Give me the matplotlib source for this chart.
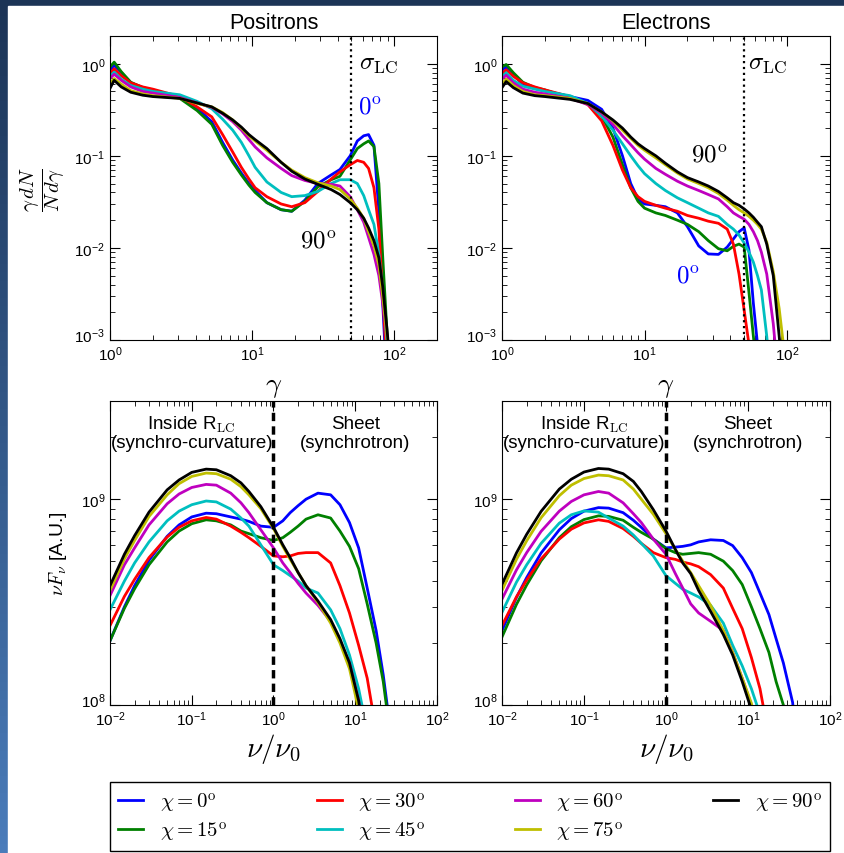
import numpy as np
import matplotlib
matplotlib.use('Agg')
import matplotlib.pyplot as plt
from matplotlib.patches import Rectangle
from matplotlib.colors import LinearSegmentedColormap
from matplotlib.transforms import ScaledTranslation

plt.rcParams['font.family'] = 'Liberation Sans'
plt.rcParams['mathtext.fontset'] = 'cm'

angles = [0, 15, 30, 45, 60, 75, 90]
colors = ['b', 'g', 'r', 'c', 'm', 'y', 'k']

# particle spectra, positrons (gamma grid)
gam_p = [1.0, 1.07, 1.2, 1.4, 1.7, 2.0, 3.1, 4.1, 5.2, 6.2, 7.3, 8.4, 9.5, 10.5, 12.7,
         16, 19, 23.5, 29, 36, 41.5, 49, 55, 61, 66, 72, 78, 83, 89, 95]
pos_0 = [0.86, 0.96, 0.8, 0.62, 0.55, 0.52, 0.43, 0.33, 0.235, 0.14, 0.09, 0.065, 0.05, 0.042, 0.031,
         0.026, 0.025, 0.033, 0.05, 0.062, 0.071, 0.1, 0.145, 0.165, 0.17, 0.13, 0.025, 0.0025, 0.0003, 0.0001]
pos_15 = [0.92, 1.04, 0.82, 0.63, 0.55, 0.51, 0.42, 0.31, 0.22, 0.13, 0.085, 0.062, 0.048, 0.04, 0.031,
          0.026, 0.025, 0.032, 0.046, 0.055, 0.06, 0.09, 0.12, 0.135, 0.145, 0.126, 0.05, 0.008, 0.0012, 0.0002]
pos_30 = [0.78, 0.88, 0.74, 0.62, 0.56, 0.53, 0.44, 0.34, 0.265, 0.17, 0.11, 0.075, 0.056, 0.045, 0.036,
          0.03, 0.028, 0.031, 0.041, 0.056, 0.067, 0.08, 0.089, 0.085, 0.073, 0.045, 0.016, 0.003, 0.0005, 0.0001]
pos_45 = [0.73, 0.81, 0.68, 0.58, 0.53, 0.5, 0.46, 0.39, 0.325, 0.25, 0.19, 0.14, 0.1, 0.075, 0.052,
          0.04, 0.036, 0.037, 0.041, 0.05, 0.055, 0.055, 0.05, 0.037, 0.026, 0.018, 0.0085, 0.0035, 0.0009, 0.0002]
pos_60 = [0.69, 0.77, 0.66, 0.56, 0.5, 0.48, 0.43, 0.375, 0.335, 0.285, 0.235, 0.19, 0.15, 0.125, 0.095,
          0.073, 0.061, 0.054, 0.05, 0.049, 0.047, 0.036, 0.026, 0.019, 0.013, 0.0085, 0.005, 0.0025, 0.0011, 0.0003]
pos_75 = [0.61, 0.69, 0.6, 0.51, 0.47, 0.45, 0.42, 0.37, 0.34, 0.295, 0.245, 0.2, 0.165, 0.145, 0.115,
          0.085, 0.07, 0.058, 0.051, 0.047, 0.043, 0.034, 0.027, 0.021, 0.015, 0.0105, 0.0065, 0.003, 0.0011, 0.0003]
pos_90 = [0.54, 0.66, 0.56, 0.49, 0.455, 0.44, 0.42, 0.375, 0.34, 0.29, 0.245, 0.205, 0.17, 0.15, 0.12,
          0.085, 0.068, 0.056, 0.049, 0.043, 0.038, 0.031, 0.026, 0.021, 0.0165, 0.012, 0.0078, 0.0038, 0.0013, 0.0004]

# particle spectra, electrons
gam_e = [1.0, 1.07, 1.2, 1.4, 1.7, 2, 3, 4, 5, 6, 7, 8, 9, 10, 12, 14, 17, 20, 24, 28, 33,
         38, 42, 46, 50, 54, 58, 62, 66, 72, 80, 88, 95]
ele_0 = [0.85, 0.93, 0.76, 0.6, 0.54, 0.51, 0.44, 0.4, 0.32, 0.2, 0.1, 0.05, 0.034, 0.03, 0.029, 0.028, 0.024,
         0.017, 0.0105, 0.0086, 0.0085, 0.0102, 0.0125, 0.015, 0.0165, 0.0095, 0.0025, 0.0009, 0.0003,
         0.0001, 0.0001, 0.0001, 0.0001]
ele_15 = [0.92, 0.98, 0.8, 0.63, 0.55, 0.52, 0.42, 0.37, 0.27, 0.16, 0.08, 0.045, 0.032, 0.027, 0.024, 0.0225,
          0.02, 0.018, 0.015, 0.012, 0.0098, 0.0093, 0.0104, 0.011, 0.0102, 0.0033, 0.0011, 0.0004, 0.0001,
          0.0001, 0.0001, 0.0001, 0.0001]
ele_30 = [0.78, 0.86, 0.73, 0.62, 0.56, 0.52, 0.44, 0.36, 0.24, 0.13, 0.07, 0.045, 0.036, 0.032, 0.029, 0.027,
          0.025, 0.0225, 0.021, 0.0195, 0.0185, 0.016, 0.011, 0.0052, 0.0021, 0.0009, 0.0003, 0.0001, 0.0001,
          0.0001, 0.0001, 0.0001, 0.0001]
ele_45 = [0.72, 0.8, 0.66, 0.57, 0.53, 0.5, 0.45, 0.37, 0.27, 0.19, 0.135, 0.1, 0.078, 0.064, 0.05, 0.042,
          0.035, 0.031, 0.027, 0.024, 0.022, 0.018, 0.016, 0.0138, 0.0113, 0.009, 0.007, 0.005, 0.0035,
          0.0011, 0.0002, 0.0001, 0.0001]
ele_60 = [0.68, 0.75, 0.62, 0.53, 0.49, 0.47, 0.42, 0.36, 0.29, 0.22, 0.165, 0.132, 0.108, 0.092, 0.073, 0.063,
          0.053, 0.047, 0.042, 0.038, 0.034, 0.028, 0.024, 0.022, 0.0205, 0.018, 0.015, 0.012, 0.009,
          0.0052, 0.0015, 0.0003, 0.0001]
ele_75 = [0.6, 0.68, 0.58, 0.5, 0.46, 0.45, 0.42, 0.37, 0.3, 0.24, 0.19, 0.155, 0.13, 0.115, 0.095, 0.08,
          0.065, 0.056, 0.05, 0.045, 0.039, 0.033, 0.029, 0.026, 0.024, 0.022, 0.02, 0.018, 0.016,
          0.0115, 0.0055, 0.0022, 0.0008]
ele_90 = [0.55, 0.64, 0.55, 0.48, 0.45, 0.44, 0.41, 0.37, 0.3, 0.245, 0.2, 0.16, 0.135, 0.12, 0.1, 0.083,
          0.067, 0.058, 0.052, 0.047, 0.041, 0.035, 0.031, 0.029, 0.0265, 0.024, 0.0215, 0.019, 0.017,
          0.011, 0.005, 0.0011, 0.0003]

# photon SEDs (nu/nu0 grid, units of 1e8)
nu = [0.01, 0.015, 0.02, 0.03, 0.05, 0.07, 0.1, 0.15, 0.2, 0.3, 0.4, 0.5, 0.7, 1.0, 1.3, 1.6, 2.0,
      2.5, 3.5, 5.0, 6.5, 8.5, 11, 14, 18, 22, 27, 35, 45]
sed_p0 = [2.05, 3.0, 3.8, 5.05, 6.6, 7.5, 8.2, 8.55, 8.5, 8.2, 8.0, 7.8, 7.4, 7.3, 7.85, 8.6, 9.3,
          10.0, 10.7, 10.5, 9.4, 7.7, 5.8, 3.7, 2.3, 1.4, 0.75, 0.25, 0.05]
sed_p15 = [2.05, 2.95, 3.67, 4.8, 6.2, 7.0, 7.6, 7.94, 7.85, 7.5, 7.0, 6.8, 6.5, 6.3, 6.5, 6.9, 7.4,
           8.0, 8.4, 8.1, 7.0, 5.9, 4.6, 3.1, 2.0, 1.3, 0.7, 0.2, 0.05]
sed_p30 = [2.43, 3.37, 4.08, 5.2, 6.55, 7.3, 7.85, 8.15, 8.0, 7.4, 6.9, 6.5, 5.9, 5.3, 5.25, 5.3, 5.45,
           5.5, 5.5, 4.9, 3.8, 2.8, 1.95, 1.35, 0.75, 0.4, 0.2, 0.1, 0.05]
sed_p45 = [2.9, 4.0, 4.9, 6.2, 7.85, 8.75, 9.4, 9.8, 9.7, 8.95, 8.1, 7.4, 6.0, 4.8, 4.5, 4.25, 4.0,
           3.7, 3.5, 2.9, 2.35, 1.75, 1.2, 0.75, 0.4, 0.2, 0.1, 0.05, 0.02]
sed_p60 = [3.4, 4.8, 5.8, 7.5, 9.5, 10.6, 11.4, 11.8, 11.7, 10.7, 9.6, 8.6, 7.1, 5.8, 4.9, 4.4, 3.9,
           3.5, 3.05, 2.55, 2.05, 1.6, 1.05, 0.55, 0.3, 0.2, 0.1, 0.05, 0.02]
sed_p75 = [3.6, 5.13, 6.3, 8.24, 10.5, 11.9, 12.9, 13.4, 13.3, 12.5, 11.5, 10.5, 9.0, 7.2, 5.9, 5.1, 4.4,
           3.8, 3.15, 2.5, 2.0, 1.5, 0.95, 0.5, 0.3, 0.2, 0.1, 0.05, 0.02]
sed_p90 = [3.8, 5.4, 6.65, 8.65, 11.1, 12.4, 13.5, 14.0, 13.9, 13.0, 12.0, 10.9, 9.2, 7.3, 6.0, 5.2, 4.4,
           3.8, 3.2, 2.6, 2.1, 1.6, 1.05, 0.55, 0.3, 0.2, 0.1, 0.05, 0.02]

sed_e0 = [2.3, 3.33, 4.16, 5.48, 7.1, 8.05, 8.75, 9.1, 9.05, 8.6, 7.9, 7.3, 6.4, 5.8, 5.85, 5.9, 6.0,
          6.2, 6.35, 6.3, 5.95, 5.2, 4.4, 3.5, 2.75, 2.1, 1.6, 1.03, 0.4]
sed_e15 = [2.14, 3.08, 3.83, 5.02, 6.5, 7.35, 7.96, 8.3, 8.25, 7.9, 7.3, 6.9, 6.4, 5.75, 5.5, 5.4, 5.45,
           5.5, 5.4, 5.0, 4.5, 3.85, 3.0, 2.35, 1.8, 1.3, 1.0, 0.5, 0.15]
sed_e30 = [2.43, 3.35, 4.05, 5.13, 6.4, 7.15, 7.67, 7.94, 7.8, 7.2, 6.6, 6.1, 5.5, 5.2, 5.1, 4.95, 4.85,
           4.7, 4.3, 3.7, 2.95, 2.35, 1.7, 1.2, 0.7, 0.35, 0.15, 0.06, 0.02]
sed_e45 = [2.82, 3.95, 4.8, 6.1, 7.65, 8.4, 8.77, 8.65, 8.1, 7.4, 6.7, 6.1, 5.3, 4.25, 3.9, 3.65, 3.5,
           3.35, 3.05, 2.5, 1.95, 1.55, 1.2, 0.9, 0.4, 0.2, 0.1, 0.05, 0.02]
sed_e60 = [3.27, 4.53, 5.5, 6.98, 8.75, 9.75, 10.5, 10.9, 10.7, 9.6, 8.5, 7.7, 6.4, 5.4, 4.35, 3.7, 3.1,
           2.8, 2.55, 2.3, 1.8, 1.35, 1.0, 0.6, 0.3, 0.15, 0.08, 0.04, 0.02]
sed_e75 = [3.6, 5.1, 6.28, 8.13, 10.4, 11.7, 12.6, 13.1, 13.0, 12.4, 11.2, 10.0, 8.45, 6.8, 5.7, 5.0, 4.4,
           3.8, 3.05, 2.3, 1.8, 1.35, 1.02, 0.6, 0.3, 0.15, 0.08, 0.04, 0.02]
sed_e90 = [3.86, 5.48, 6.75, 8.73, 11.2, 12.5, 13.55, 14.1, 14.0, 13.3, 12.2, 10.9, 8.9, 7.0, 5.7, 4.9,
           4.35, 3.6, 2.85, 2.2, 1.75, 1.3, 0.95, 0.5, 0.25, 0.15, 0.08, 0.04, 0.02]

spec_pos = [pos_0, pos_15, pos_30, pos_45, pos_60, pos_75, pos_90]
spec_ele = [ele_0, ele_15, ele_30, ele_45, ele_60, ele_75, ele_90]
sed_pos = [sed_p0, sed_p15, sed_p30, sed_p45, sed_p60, sed_p75, sed_p90]
sed_ele = [sed_e0, sed_e15, sed_e30, sed_e45, sed_e60, sed_e75, sed_e90]

W, H = 845, 854
fig = plt.figure(figsize=(W / 100, H / 100), dpi=100)

# slide background: navy frame with a blue gradient on the left
bg = fig.add_axes([0, 0, 1, 1], zorder=-10)
cmap = LinearSegmentedColormap.from_list('slide', ['#4a7cba', '#1c3456'])
bg.imshow(np.linspace(0, 1, 100)[:, None], aspect='auto', cmap=cmap, origin='lower',
          extent=[0, 1, 0, 1])
bg.add_patch(Rectangle((8 / W, 0), 1, 1 - 7 / H, color='white', zorder=2))
bg.set_xlim(0, 1)
bg.set_ylim(0, 1)
bg.axis('off')


def px_axes(x0, y0, x1, y1):
    return fig.add_axes([x0 / W, 1 - y1 / H, (x1 - x0) / W, (y1 - y0) / H])


ax_tl = px_axes(110, 37, 437, 341)
ax_tr = px_axes(502, 37, 830, 341)
ax_bl = px_axes(110, 402, 437, 706)
ax_br = px_axes(502, 402, 830, 706)


def style(ax):
    ax.set_xscale('log')
    ax.set_yscale('log')
    ax.tick_params(which='both', direction='in', top=True, right=True, labelsize=11)
    ax.tick_params(which='major', length=7)
    ax.tick_params(which='minor', length=3.5)


for ax, x, spec in [(ax_tl, gam_p, spec_pos), (ax_tr, gam_e, spec_ele)]:
    for y, c, a in zip(spec, colors, angles):
        ax.plot(x, y, color=c, lw=2, label=r'$\chi=%d^{\rm o}$' % a)
    style(ax)
    ax.set_xlim(1, 200)
    ax.set_ylim(1e-3, 2)
    ax.axvline(50, color='k', ls=':', lw=1.6)
    ax.set_xlabel(r'$\gamma$', fontsize=20)
    ax.xaxis.set_label_coords(0.5, -0.11)

for ax, sed in [(ax_bl, sed_pos), (ax_br, sed_ele)]:
    for y, c in zip(sed, colors):
        ax.plot(nu, np.array(y) * 1e8, color=c, lw=2)
    style(ax)
    ax.set_xlim(1e-2, 1e2)
    ax.set_ylim(1e8, 3e9)
    ax.axvline(1, color='k', ls='--', lw=2.5, dashes=(2.4, 1.5))
    ax.set_xlabel(r'$\nu/\nu_0$', fontsize=21)
    ax.xaxis.set_label_coords(0.5, -0.085)
    tr = ax.get_xaxis_transform()
    ax.text(0.1, 0.925, r'Inside R$_{\rm LC}$', transform=tr, ha='center', va='center', fontsize=13.5)
    ax.text(0.1, 0.865, '(synchro-curvature)', transform=tr, ha='center', va='center', fontsize=13.5)
    ax.text(10, 0.925, 'Sheet', transform=tr, ha='center', va='center', fontsize=13.5)
    ax.text(10, 0.865, '(synchrotron)', transform=tr, ha='center', va='center', fontsize=13.5)

ax_tl.set_title('Positrons', fontsize=15.5, pad=6)
ax_tr.set_title('Electrons', fontsize=15.5, pad=6)

ax_tl.set_ylabel(r'$\dfrac{\gamma\,dN}{N\,d\gamma}$', fontsize=15)
ax_tl.yaxis.set_label_coords(-0.13, 0.5)
ax_bl.set_ylabel(r'$\nu F_\nu$ [A.U.]', fontsize=14)
ax_bl.yaxis.set_label_coords(-0.125, 0.5)

for ax, xs in [(ax_tl, 77), (ax_tr, 73)]:
    ax.text(xs, 1.05, r'$\sigma_{\rm LC}$', fontsize=18, ha='center', va='center')
ax_tl.text(68, 0.35, r'$0^{\rm o}$', color='b', fontsize=18, ha='center', va='center')
ax_tl.text(29, 0.012, r'$90^{\rm o}$', color='k', fontsize=18, ha='center', va='center')
ax_tr.text(20, 0.005, r'$0^{\rm o}$', color='b', fontsize=18, ha='center', va='center')
ax_tr.text(28.5, 0.105, r'$90^{\rm o}$', color='k', fontsize=18, ha='center', va='center')

handles, labels = ax_tl.get_legend_handles_labels()
leg = fig.legend(handles, labels, loc='upper left', ncol=4, mode='expand',
                 bbox_to_anchor=(110 / W, 0, 720 / W, 1 - 783 / H), borderaxespad=0,
                 fontsize=15, handlelength=1.2, labelspacing=0.25, fancybox=False,
                 edgecolor='k', framealpha=1)
leg.get_frame().set_linewidth(1.0)

# lift the lowest y tick label a few pixels so it clears the x tick labels
fig.canvas.draw()
lift = ScaledTranslation(0, 4.5 / 72, fig.dpi_scale_trans)
for ax in [ax_tl, ax_tr, ax_bl, ax_br]:
    ymin = ax.get_ylim()[0]
    for t in ax.yaxis.get_major_ticks():
        if np.isclose(t.get_loc(), ymin):
            t.label1.set_transform(t.label1.get_transform() + lift)

fig.savefig('out.png', dpi=100)
